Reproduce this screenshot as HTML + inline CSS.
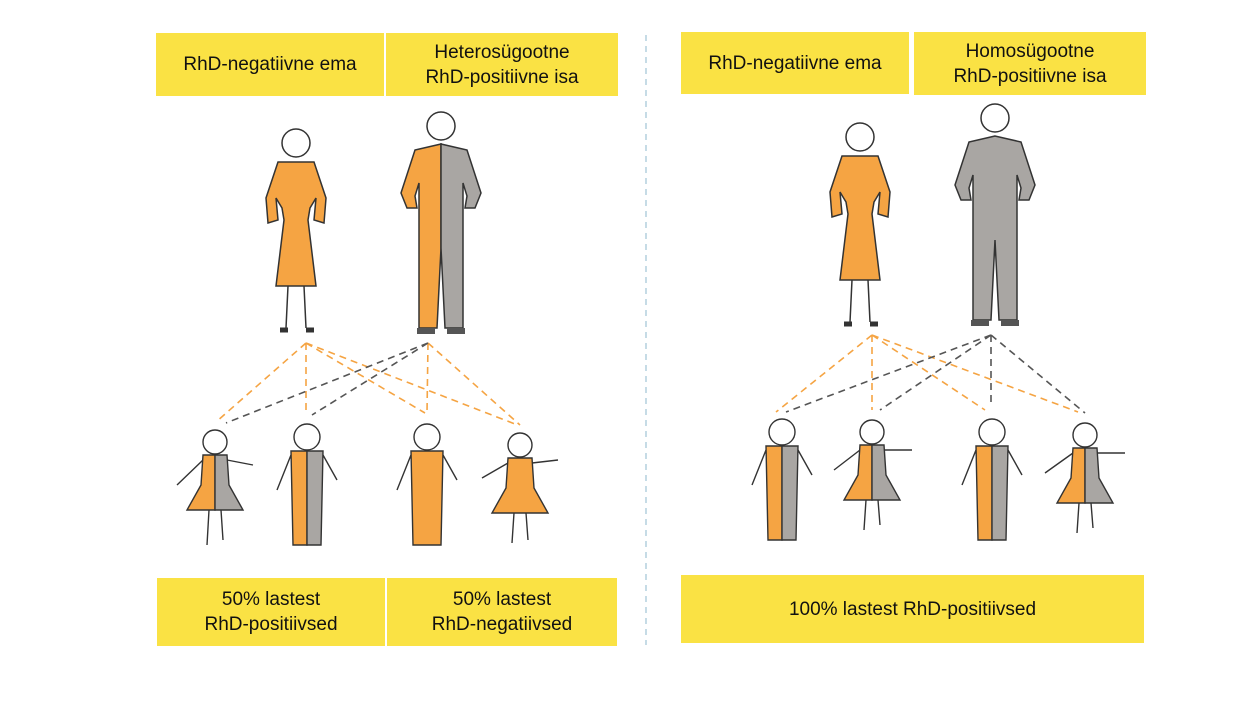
<!DOCTYPE html>
<html><head><meta charset="utf-8"><style>
body{margin:0;background:#fff;width:1242px;height:701px;overflow:hidden;position:relative;font-family:"Liberation Sans",sans-serif}
.b{position:absolute;background:#FAE244;display:flex;align-items:center;justify-content:center;text-align:center;font-size:19px;line-height:25px;color:#111}
svg{position:absolute;left:0;top:0}
</style></head><body>
<div class="b" style="left:156px;top:33px;width:228px;height:63px">RhD-negatiivne ema</div>
<div class="b" style="left:386px;top:33px;width:232px;height:63px">Heterosügootne<br>RhD-positiivne isa</div>
<div class="b" style="left:681px;top:32px;width:228px;height:62px">RhD-negatiivne ema</div>
<div class="b" style="left:914px;top:32px;width:232px;height:63px">Homosügootne<br>RhD-positiivne isa</div>
<div class="b" style="left:157px;top:578px;width:228px;height:68px">50% lastest<br>RhD-positiivsed</div>
<div class="b" style="left:387px;top:578px;width:230px;height:68px">50% lastest<br>RhD-negatiivsed</div>
<div class="b" style="left:681px;top:575px;width:463px;height:68px">100% lastest RhD-positiivsed</div>
<svg width="1242" height="701" viewBox="0 0 1242 701">
<defs>
<g id="woman" stroke="#333" stroke-width="1.5">
 <circle cx="0" cy="-85" r="14" fill="#fff"/>
 <path d="M-18,-66 L18,-66 L30,-30 L28,-5 L18,-8 L20,-30 L14,-20 L12,-8 L20,58 L-20,58 L-12,-8 L-14,-20 L-20,-30 L-18,-8 L-28,-5 L-30,-30 Z" fill="#F5A443"/>
 <path d="M-8,58 L-10,100 M8,58 L10,100" fill="none"/>
 <path d="M-16,102 h8 M10,102 h8" stroke-width="5"/>
</g>
<g id="man" stroke="#333" stroke-width="1.5">
 <circle cx="0" cy="-92" r="14" fill="#fff"/>
 <path d="M0,-74 L-26,-68 L-40,-25 L-34,-10 L-24,-10 L-26,-22 L-22,-35 L-22,110 L-4,110 L0,30 Z" fill="#F5A443"/>
 <path d="M0,-74 L26,-68 L40,-25 L34,-10 L24,-10 L26,-22 L22,-35 L22,110 L4,110 L0,30 Z" fill="#A9A6A3"/>
 <path d="M-24,113 h18 M6,113 h18" stroke="#555" stroke-width="6"/>
</g>
<g id="manG" stroke="#333" stroke-width="1.5">
 <circle cx="0" cy="-92" r="14" fill="#fff"/>
 <path d="M0,-74 L-26,-68 L-40,-25 L-34,-10 L-24,-10 L-26,-22 L-22,-35 L-22,110 L-4,110 L0,30 L4,110 L22,110 L22,-35 L26,-22 L24,-10 L34,-10 L40,-25 L26,-68 Z" fill="#A9A6A3"/>
 <path d="M-24,113 h18 M6,113 h18" stroke="#555" stroke-width="6"/>
</g>
</defs>
<line x1="646" y1="35" x2="646" y2="645" stroke="#A8C8D8" stroke-width="1.3" stroke-dasharray="6,5"/>
<use href="#woman" x="296" y="228"/>
<use href="#man" x="441" y="218"/>
<use href="#woman" x="860" y="222"/>
<use href="#manG" x="995" y="210"/>
<g fill="none" stroke-width="1.6" stroke-dasharray="7,5">
<g stroke="#F5A443">
 <path d="M306,343L216,422M306,343L306,415M306,343L425,413M306,343L515,424M428,343L427,413M428,343L520,425"/>
 <path d="M872,335L776,412M872,335L872,410M872,335L985,410M872,335L1078,412"/>
</g>
<g stroke="#555">
 <path d="M428,343L226,423M428,343L312,415"/>
 <path d="M991,335L786,412M991,335L880,410M991,335L991,405M991,335L1085,413"/>
</g>
</g>
<g stroke="#333" stroke-width="1.4">
<!-- left children -->
<g transform="translate(215,475)"><path d="M-12,-15 L-38,10 M12,-15 L38,-10" fill="none"/><circle cx="0" cy="-33" r="12" fill="#fff"/><path d="M-12,-20 L0,-20 L0,35 L-28,35 L-14,10 Z" fill="#F5A443"/><path d="M0,-20 L12,-20 L14,10 L28,35 L0,35 Z" fill="#A9A6A3"/><path d="M-6,35 L-8,70 M6,35 L8,65" fill="none"/></g>
<g transform="translate(307,475)"><path d="M-16,-20 L-30,15 M16,-20 L30,5" fill="none"/><circle cx="0" cy="-38" r="13" fill="#fff"/><path d="M-16,-24 L0,-24 L0,70 L-14,70 Z" fill="#F5A443"/><path d="M0,-24 L16,-24 L14,70 L0,70 Z" fill="#A9A6A3"/></g>
<g transform="translate(427,475)"><path d="M-16,-20 L-30,15 M16,-20 L30,5" fill="none"/><circle cx="0" cy="-38" r="13" fill="#fff"/><path d="M-16,-24 L16,-24 L14,70 L-14,70 Z" fill="#F5A443"/></g>
<g transform="translate(520,478)"><path d="M-12,-15 L-38,0 M12,-15 L38,-18" fill="none"/><circle cx="0" cy="-33" r="12" fill="#fff"/><path d="M-12,-20 L12,-20 L14,10 L28,35 L-28,35 L-14,10 Z" fill="#F5A443"/><path d="M-6,35 L-8,65 M6,35 L8,62" fill="none"/></g>
<!-- right children -->
<g transform="translate(782,470)"><path d="M-16,-20 L-30,15 M16,-20 L30,5" fill="none"/><circle cx="0" cy="-38" r="13" fill="#fff"/><path d="M-16,-24 L0,-24 L0,70 L-14,70 Z" fill="#F5A443"/><path d="M0,-24 L16,-24 L14,70 L0,70 Z" fill="#A9A6A3"/></g>
<g transform="translate(872,465)"><path d="M-12,-15 L-38,5 M12,-15 L40,-15" fill="none"/><circle cx="0" cy="-33" r="12" fill="#fff"/><path d="M-12,-20 L0,-20 L0,35 L-28,35 L-14,10 Z" fill="#F5A443"/><path d="M0,-20 L12,-20 L14,10 L28,35 L0,35 Z" fill="#A9A6A3"/><path d="M-6,35 L-8,65 M6,35 L8,60" fill="none"/></g>
<g transform="translate(992,470)"><path d="M-16,-20 L-30,15 M16,-20 L30,5" fill="none"/><circle cx="0" cy="-38" r="13" fill="#fff"/><path d="M-16,-24 L0,-24 L0,70 L-14,70 Z" fill="#F5A443"/><path d="M0,-24 L16,-24 L14,70 L0,70 Z" fill="#A9A6A3"/></g>
<g transform="translate(1085,468)"><path d="M-12,-15 L-40,5 M12,-15 L40,-15" fill="none"/><circle cx="0" cy="-33" r="12" fill="#fff"/><path d="M-12,-20 L0,-20 L0,35 L-28,35 L-14,10 Z" fill="#F5A443"/><path d="M0,-20 L12,-20 L14,10 L28,35 L0,35 Z" fill="#A9A6A3"/><path d="M-6,35 L-8,65 M6,35 L8,60" fill="none"/></g>
</g>
</svg>
</body></html>
